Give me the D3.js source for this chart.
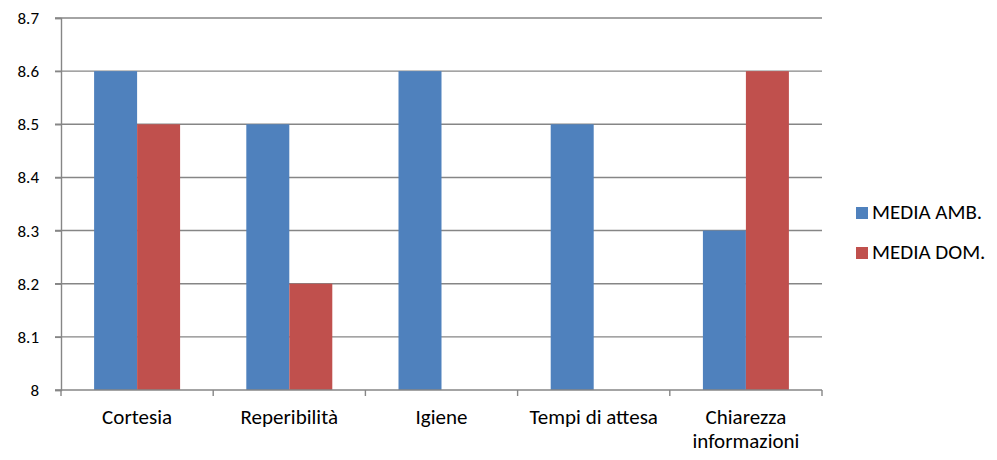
<!DOCTYPE html>
<html>
<head>
<meta charset="utf-8">
<script src="https://cdn.jsdelivr.net/npm/d3@7"></script>
<style>
  body { margin: 0; background: #fff; }
  text { font-family: Carlito, "Open Sans", "Noto Sans", sans-serif; fill: #000; }
</style>
</head>
<body>
<script>
const categories = ['Cortesia', 'Reperibilità', 'Igiene', 'Tempi di attesa', 'Chiarezza informazioni'];
const seriesNames = ['MEDIA AMB.', 'MEDIA DOM.'];
const mediaAmb = [8.6, 8.5, 8.6, 8.5, 8.3];
const mediaDom = [8.5, 8.2, null, null, 8.6];
const yTicks = [8, 8.1, 8.2, 8.3, 8.4, 8.5, 8.6, 8.7];
const colors = ['#4f81bd', '#c0504d'];

const width = 997, height = 460;
const margin = { top: 18, right: 175, bottom: 70, left: 61 };

const svg = d3.select('body').append('svg')
    .attr('width', width)
    .attr('height', height);

const x = d3.scaleBand()
    .domain(categories)
    .range([margin.left, width - margin.right]);

const xInner = d3.scaleBand()
    .domain(seriesNames)
    .range([0, x.bandwidth()])
    .paddingOuter(0.77);

const y = d3.scaleLinear()
    .domain([8, 8.7])
    .range([height - margin.bottom, margin.top]);

// grid
svg.append('g')
  .selectAll('line')
  .data(yTicks.slice(1))
  .join('line')
    .attr('x1', margin.left - 6)
    .attr('x2', width - margin.right)
    .attr('y1', d => y(d))
    .attr('y2', d => y(d))
    .attr('stroke', '#868686')
    .attr('stroke-width', 1.4);

// bars
const rows = categories.map((c, i) => ({ name: c, values: [mediaAmb[i], mediaDom[i]] }));
svg.append('g')
  .selectAll('g')
  .data(rows)
  .join('g')
    .attr('transform', d => `translate(${x(d.name)},0)`)
  .selectAll('rect')
  .data(d => d.values.map((v, j) => ({ key: seriesNames[j], value: v, j })).filter(e => e.value != null))
  .join('rect')
    .attr('x', d => xInner(d.key))
    .attr('width', xInner.bandwidth())
    .attr('y', d => y(d.value))
    .attr('height', d => y(8) - y(d.value))
    .attr('fill', d => colors[d.j]);

// y axis
const gy = svg.append('g')
    .attr('transform', `translate(${margin.left},0)`)
    .call(d3.axisLeft(y).tickValues(yTicks).tickFormat(d => d3.format('~g')(d)).tickSize(6).tickPadding(16));
gy.select('.domain').attr('stroke', '#868686').attr('stroke-width', 1.4);
gy.selectAll('.tick line').attr('stroke', '#868686').attr('stroke-width', 1.4);
gy.selectAll('.tick text').style('font-size', '17px');

// x axis
const gx = svg.append('g')
    .attr('transform', `translate(0,${y(8)})`);
gx.append('line')
    .attr('x1', margin.left - 6)
    .attr('x2', width - margin.right)
    .attr('stroke', '#868686')
    .attr('stroke-width', 1.4);
gx.selectAll('line.tk')
  .data(categories.map(c => x(c)).concat([x(categories[categories.length - 1]) + x.bandwidth()]))
  .join('line')
    .attr('class', 'tk')
    .attr('x1', d => d)
    .attr('x2', d => d)
    .attr('y1', 0)
    .attr('y2', 6)
    .attr('stroke', '#868686')
    .attr('stroke-width', 1.4);
gx.selectAll('text')
  .data(categories)
  .join('text')
    .attr('x', d => x(d) + x.bandwidth() / 2)
    .attr('text-anchor', 'middle')
    .style('font-size', '21px')
    .each(function (d) {
      const words = d === 'Chiarezza informazioni' ? d.split(' ') : [d];
      d3.select(this).selectAll('tspan')
        .data(words)
        .join('tspan')
          .attr('x', x(d) + x.bandwidth() / 2)
          .attr('y', (w, k) => 34 + k * 24)
          .text(w => w);
    });

// legend
const legend = svg.append('g')
    .attr('transform', 'translate(856,207)');
const li = legend.selectAll('g')
  .data(seriesNames)
  .join('g')
    .attr('transform', (d, i) => `translate(0,${i * 40})`);
li.append('rect')
    .attr('width', 12)
    .attr('height', 12)
    .attr('fill', (d, i) => colors[i]);
li.append('text')
    .attr('x', 16)
    .attr('y', 12)
    .style('font-size', '21px')
    .text(d => d);
</script>
</body>
</html>
